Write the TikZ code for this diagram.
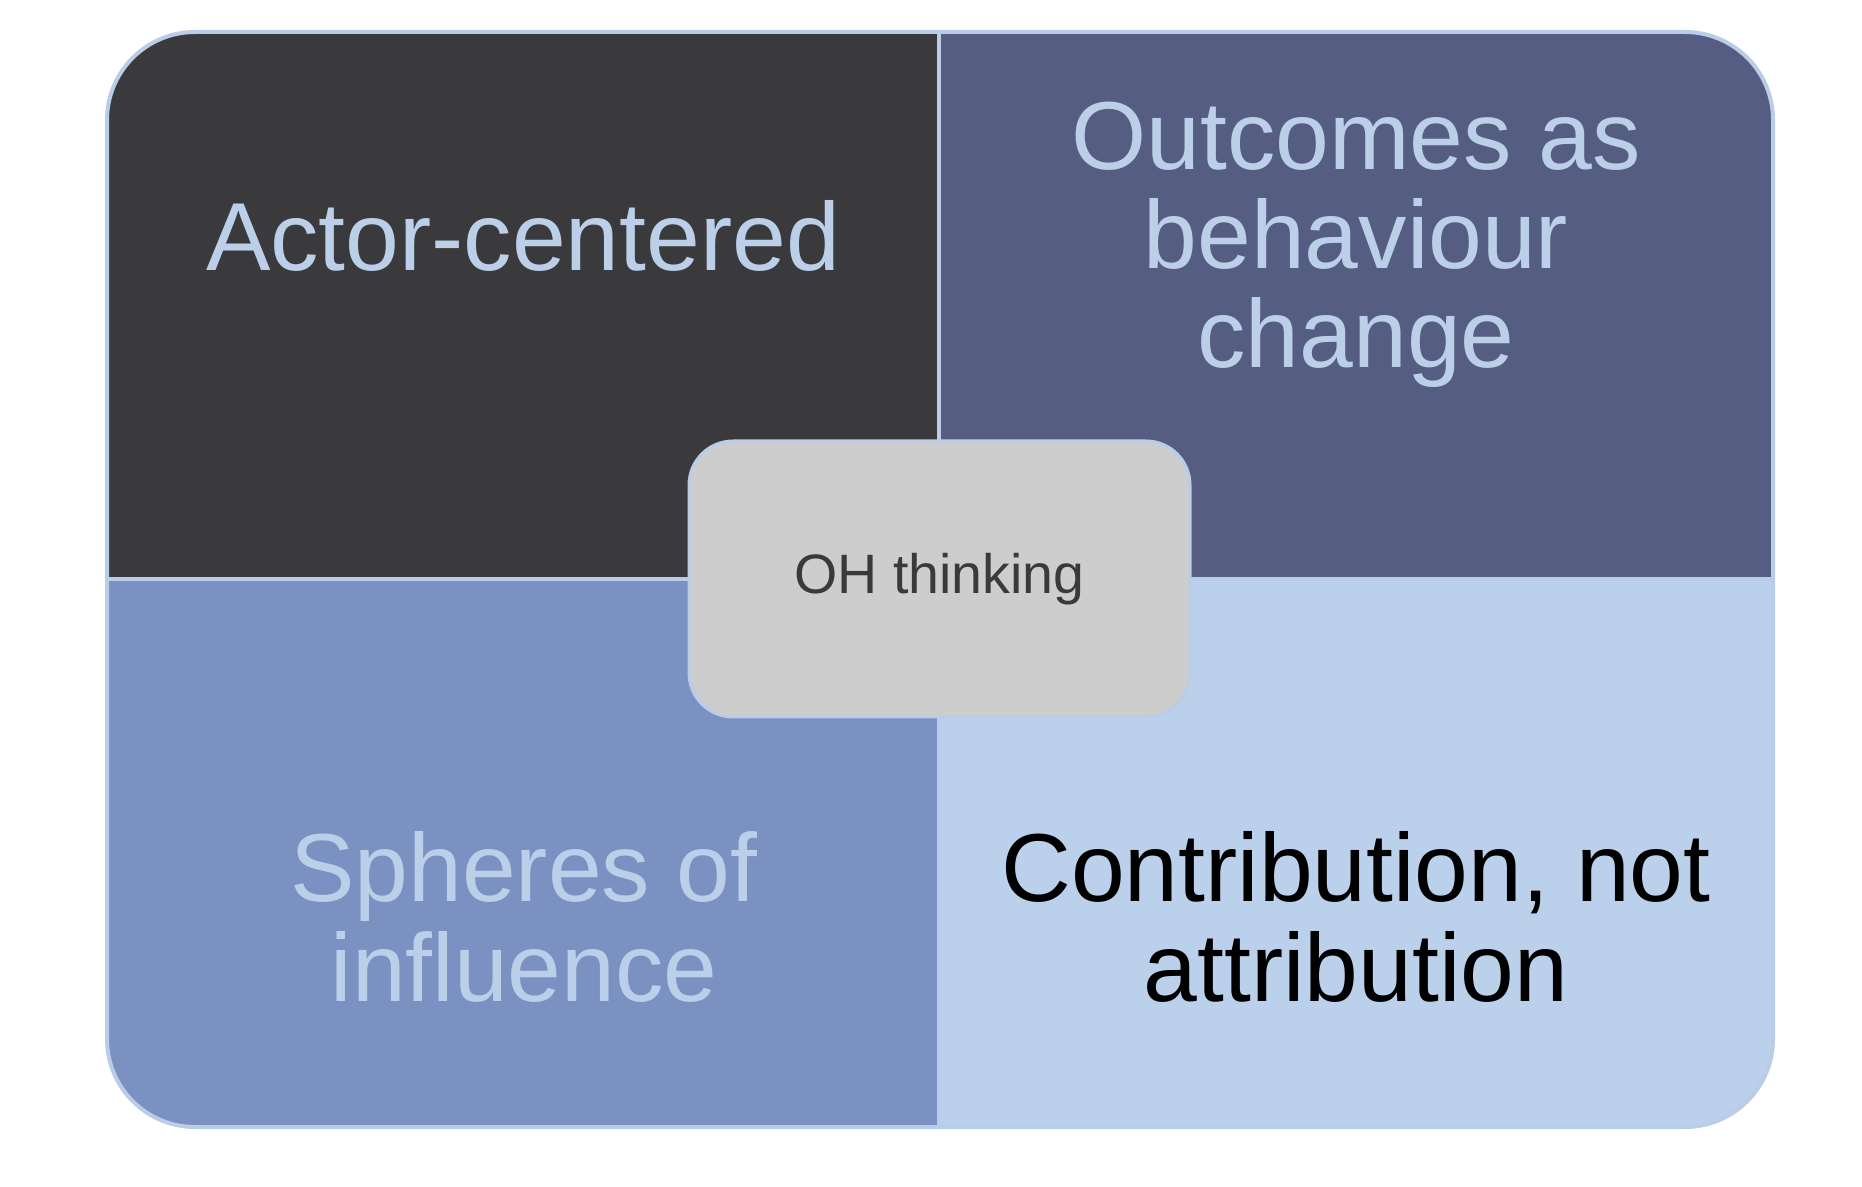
\documentclass[tikz,border=0pt]{standalone}
\usepackage{fontspec}
\setmainfont{Liberation Sans}
\usepackage{tikz}
\usetikzlibrary{positioning}

\definecolor{quadTL}{RGB}{58,58,60}
\definecolor{quadTR}{RGB}{86,93,130}
\definecolor{quadBL}{RGB}{123,145,194}
\definecolor{quadBR}{RGB}{187,208,234}
\definecolor{edgeblue}{RGB}{185,205,232}
\definecolor{hubgray}{RGB}{205,205,205}
\definecolor{hubtext}{RGB}{58,58,58}
\definecolor{paleblue}{RGB}{187,207,233}

\begin{document}
\begin{tikzpicture}[
  quadtext/.style={align=center, font=\fontsize{27.5}{28.2}\selectfont, inner sep=0pt},
  hub/.style={rectangle, draw=edgeblue, line width=0.03cm, fill=hubgray, rounded corners=0.44cm,
    minimum width=5.01cm, minimum height=2.76cm, inner sep=0pt,
    font=\fontsize{15.8}{18}\selectfont, text=hubtext},
  edge/.style={draw=edgeblue, line width=0.04cm}
]
\useasboundingbox (0,0) rectangle (18.62,11.86);

% four quadrants inside one rounded frame
\begin{scope}
\clip[rounded corners=0.88cm] (1.07,0.59) rectangle (17.73,11.54);
\fill[quadTL] (1.07,6.07) rectangle (9.39,11.54);
\fill[quadTR] (9.39,6.07) rectangle (17.73,11.54);
\fill[quadBL] (1.07,0.59) rectangle (9.39,6.07);
\fill[quadBR] (9.39,0.59) rectangle (17.73,6.07);
\end{scope}
\draw[edge, rounded corners=0.88cm] (1.07,0.59) rectangle (17.73,11.54);
\draw[edge] (9.39,0.59) -- (9.39,11.54);
\draw[edge] (1.07,6.07) -- (17.73,6.07);

% labels sit on the baseline of their last line
\node[quadtext, text=paleblue, anchor=base] (actor) at (5.23,9.15) {Actor-centered};
\node[quadtext, text=paleblue, anchor=base] (outcomes) at (13.56,8.18) {Outcomes as\\behaviour\\change};
\node[quadtext, text=paleblue, anchor=base] (spheres) at (5.24,1.85) {Spheres of\\influence};
\node[quadtext, text=black, anchor=base] (contrib) at (13.56,1.85) {Contribution, not\\attribution};

\node[hub] (oh) at (9.395,6.07) {OH thinking};
\end{tikzpicture}
\end{document}
